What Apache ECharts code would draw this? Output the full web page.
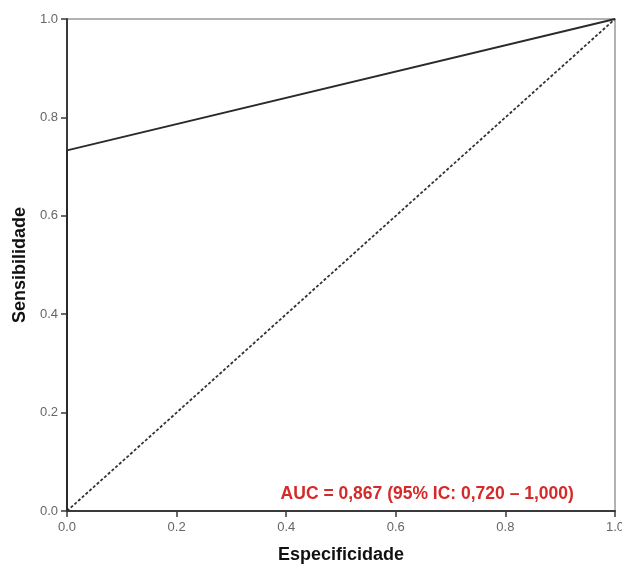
<!DOCTYPE html>
<html>
<head>
<meta charset="utf-8">
<script src="https://cdn.jsdelivr.net/npm/echarts@6/dist/echarts.min.js"></script>
<style>
  html, body { margin: 0; padding: 0; background: #fff; }
  #chart { width: 622px; height: 565px; }
</style>
</head>
<body>
<div id="chart"></div>
<script>
// ROC curve points (1 - specificity on x, sensitivity on y)
const rocX = [0, 0, 1];
const rocY = [0, 0.733, 1];
// Reference (chance) diagonal
const refX = [0, 1];
const refY = [0, 1];
const aucText = 'AUC = 0,867 (95% IC: 0,720 \u2013 1,000)';

const chart = echarts.init(document.getElementById('chart'), null, { renderer: 'canvas' });

const FONT = '"Liberation Sans", Arial, sans-serif';

const axisCommon = {
  type: 'value',
  min: 0,
  max: 1,
  interval: 0.2,
  axisLine: { show: true, lineStyle: { color: '#3a3a3a', width: 2 } },
  axisTick: { show: true, length: 6, lineStyle: { color: '#3a3a3a', width: 1.5 } },
  axisLabel: {
    color: '#666',
    fontSize: 13,
    fontFamily: FONT,
    formatter: v => v.toFixed(1)
  },
  splitLine: { show: false },
  nameLocation: 'middle',
  nameTextStyle: {
    color: '#111',
    fontSize: 18,
    fontWeight: 'bold',
    fontFamily: FONT
  }
};

chart.setOption({
  animation: false,
  grid: {
    left: 67, right: 7, top: 19, bottom: 54,
    containLabel: false,
    outerBoundsMode: 'none',
    show: true,
    borderColor: '#999',
    borderWidth: 1.5
  },
  xAxis: Object.assign({}, axisCommon, {
    name: 'Especificidade',
    nameGap: 35,
    axisLabel: Object.assign({}, axisCommon.axisLabel, { margin: 10 })
  }),
  yAxis: Object.assign({}, axisCommon, {
    name: 'Sensibilidade',
    nameGap: 38,
    axisLabel: Object.assign({}, axisCommon.axisLabel, { margin: 9 })
  }),
  series: [
    {
      type: 'line',
      data: rocX.map((x, i) => [x, rocY[i]]),
      symbol: 'none',
      lineStyle: { color: '#2a2a2a', width: 1.8 },
      z: 3
    },
    {
      type: 'line',
      data: refX.map((x, i) => [x, refY[i]]),
      symbol: 'none',
      lineStyle: { color: '#333', width: 1.8, type: [3, 2] },
      z: 2
    }
  ]
});

// Annotation placed in data coordinates near the lower right
const anchor = chart.convertToPixel({ gridIndex: 0 }, [0.925, 0.035]);
chart.setOption({
  graphic: [{
    type: 'text',
    x: anchor[0],
    y: anchor[1],
    style: {
      text: aucText,
      fill: '#d42a2a',
      font: 'bold 17.5px ' + FONT,
      textAlign: 'right',
      textVerticalAlign: 'middle'
    },
    z: 10
  }]
});
</script>
</body>
</html>
